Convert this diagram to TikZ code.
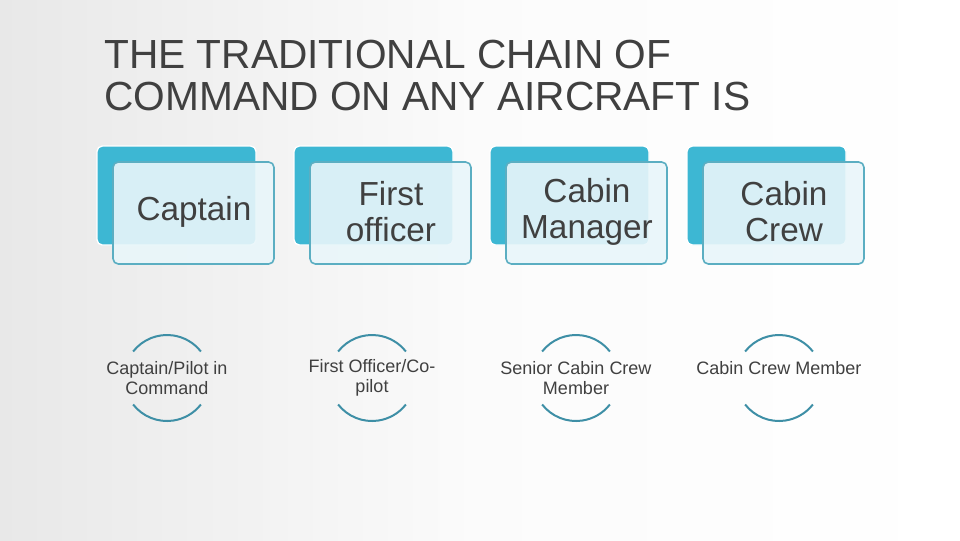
\documentclass[tikz,border=0pt]{standalone}
\usepackage{fontspec}
\setmainfont{Liberation Sans}
\usetikzlibrary{positioning}
\definecolor{cardblue}{HTML}{3DB7D3}
\definecolor{cardline}{HTML}{5BAEC2}
\definecolor{cardfill}{HTML}{E9F6FA}
\definecolor{arcline}{HTML}{3E8FA6}
\definecolor{txt}{HTML}{404040}
\begin{document}
\begin{tikzpicture}[x=0.75pt,y=-0.75pt,
     back/.style = {draw=white, line width=1pt, fill=cardblue, rounded corners=4pt},
     front/.style = {draw=cardline, line width=1.2pt, fill=cardfill, fill opacity=0.9, rounded corners=4pt},
     cardtext/.style = {text=txt, font=\fontsize{25}{27}\selectfont, align=center},
     roletext/.style = {text=txt, font=\fontsize{13.5}{15}\selectfont, align=center},
     arcs/.style = {draw=arcline, line width=1.5pt}
    ]
    \shade[left color=gray!18, right color=white, middle color=white!97!gray] (0,0) rectangle (960,540);
    \useasboundingbox (0,0) rectangle (960,540);
    \node[anchor=north west, inner sep=0, text=txt, font=\fontsize{30.5}{31}\selectfont, align=left] (title) at (104,40) {THE TRADITIONAL CHAIN OF\\COMMAND ON ANY AIRCRAFT IS};
    % cards and role circles
    \foreach \i/\cx/\rx/\ry/\card/\role in {1/97/167/378/Captain/{Captain/Pilot in\\Command},
        2/294/372/378/{First\\officer}/{First Officer/Co-\\pilot},
        3/490/576/378/{Cabin\\Manager}/{Senior Cabin Crew\\Member},
        4/687/779/368/{Cabin\\Crew}/{Cabin Crew Member}} {
      \draw[back] (\cx,146) rectangle ++(159,99);
      \draw[front] (\cx+16,162) rectangle ++(161,102);
      \node[cardtext] (card\i) at (\cx+97,212) {\card};
      \node[roletext] (role\i) at (\rx,\ry) {\role};
      \draw[arcs] (\rx,378) ++(142:43) arc[start angle=142, end angle=38, radius=43];
      \draw[arcs] (\rx,378) ++(218:43) arc[start angle=218, end angle=322, radius=43];
    }
\end{tikzpicture}
\end{document}
